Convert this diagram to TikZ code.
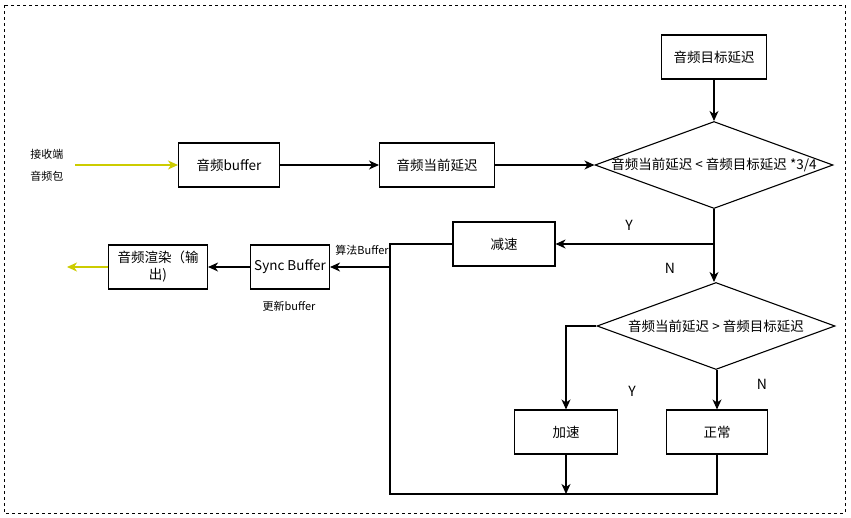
\documentclass[tikz,border=0pt]{standalone}
\usepackage{fontspec}
\setmainfont{Noto Sans CJK SC}
\usepackage{tikz}
\usetikzlibrary{arrows.meta,calc,positioning,shapes.geometric}
\definecolor{feedYellow}{HTML}{CCCC00}

\begin{document}
\begin{tikzpicture}[
    x=1pt,y=-1pt,
    >={Stealth[length=10pt,width=9pt,inset=3pt]},
    line width=1.1pt,
    box/.style={draw,inner sep=1pt,align=center,minimum height=44pt,
      font=\fontsize{13.5}{17}\selectfont},
    cond/.style={draw,diamond,inner sep=0pt,minimum width=238pt,
      minimum height=87pt},
    condtext/.style={inner sep=0pt,font=\fontsize{13.5}{17}\selectfont},
    note/.style={align=center,inner sep=1pt,font=\fontsize{11}{22}\selectfont},
    yn/.style={inner sep=1pt,font=\fontsize{14}{17}\selectfont},
    feed/.style={->,draw=feedYellow,line width=1.2pt}
  ]
    \useasboundingbox (0,0) rectangle (851,517);
    \draw[dash pattern=on 3pt off 3pt,line width=0.9pt] (4,5) rectangle (845,513);

    % upper row
    \node[note] (src) at (47,165) {接收端\\音频包};
    \node[box,minimum width=101pt] (buf) at (229,165) {音频buffer};
    \node[box,minimum width=115pt] (cur) at (437,165) {音频当前延迟};
    \node[box,minimum width=105pt] (target) at (714,57) {音频目标延迟};
    \node[cond,label={[condtext]center:音频当前延迟 < 音频目标延迟 *3/4}] (cond1) at (714,165) {};
    \draw[feed] ([xshift=10pt]src.east) -- (buf.west);
    \draw[->] (buf) -- (cur);
    \draw[->] (cur) -- (cond1);
    \draw[->] (target) -- (cond1);

    % second decision
    \coordinate (split) at (714,244);
    \node[box,minimum width=102pt] (slow) at (504,244) {减速};
    \node[cond,label={[condtext]center:音频当前延迟 > 音频目标延迟}] (cond2) at (716,326) {};
    \draw (cond1.south) -- (split);
    \draw[->] (split) -- (slow.east);
    \draw[->] (split) -- (split |- cond2.north);
    \node[yn] (y1) at (629,225) {Y};
    \node[yn] (n1) at (670,268) {N};

    \node[box,minimum width=103pt] (fast) at (566,432) {加速};
    \node[box,minimum width=101pt] (normal) at (717,432) {正常};
    \draw[->] (cond2.west) -| (fast.north);
    \draw[->] (normal.north |- cond2.south) -- (normal.north);
    \node[yn] (y2) at (632,391) {Y};
    \node[yn] (n2) at (762,384) {N};

    % back to the output
    \coordinate (jtop) at (390,244);
    \coordinate (jmid) at (390,267);
    \coordinate (jbot) at (390,494);
    \draw (slow.west) -- (jtop) -- (jbot) -| (normal.south);
    \draw[->] (fast.south) -- (fast.south |- jbot);

    \node[box,minimum width=79pt] (sync) at (290,267) {Sync Buffer};
    \node[box,minimum width=99pt] (render) at (158,267) {音频渲染（输\\出)};
    \coordinate (out) at (67,267);
    \draw[->] (jmid) -- (sync.east);
    \draw[->] (sync) -- (render);
    \draw[feed] (render.west) -- (out);
    \node[note] (algo) at (362,250) {算法Buffer};
    \node[note] (upd) at (289,306) {更新buffer};
  \end{tikzpicture}
\end{document}
